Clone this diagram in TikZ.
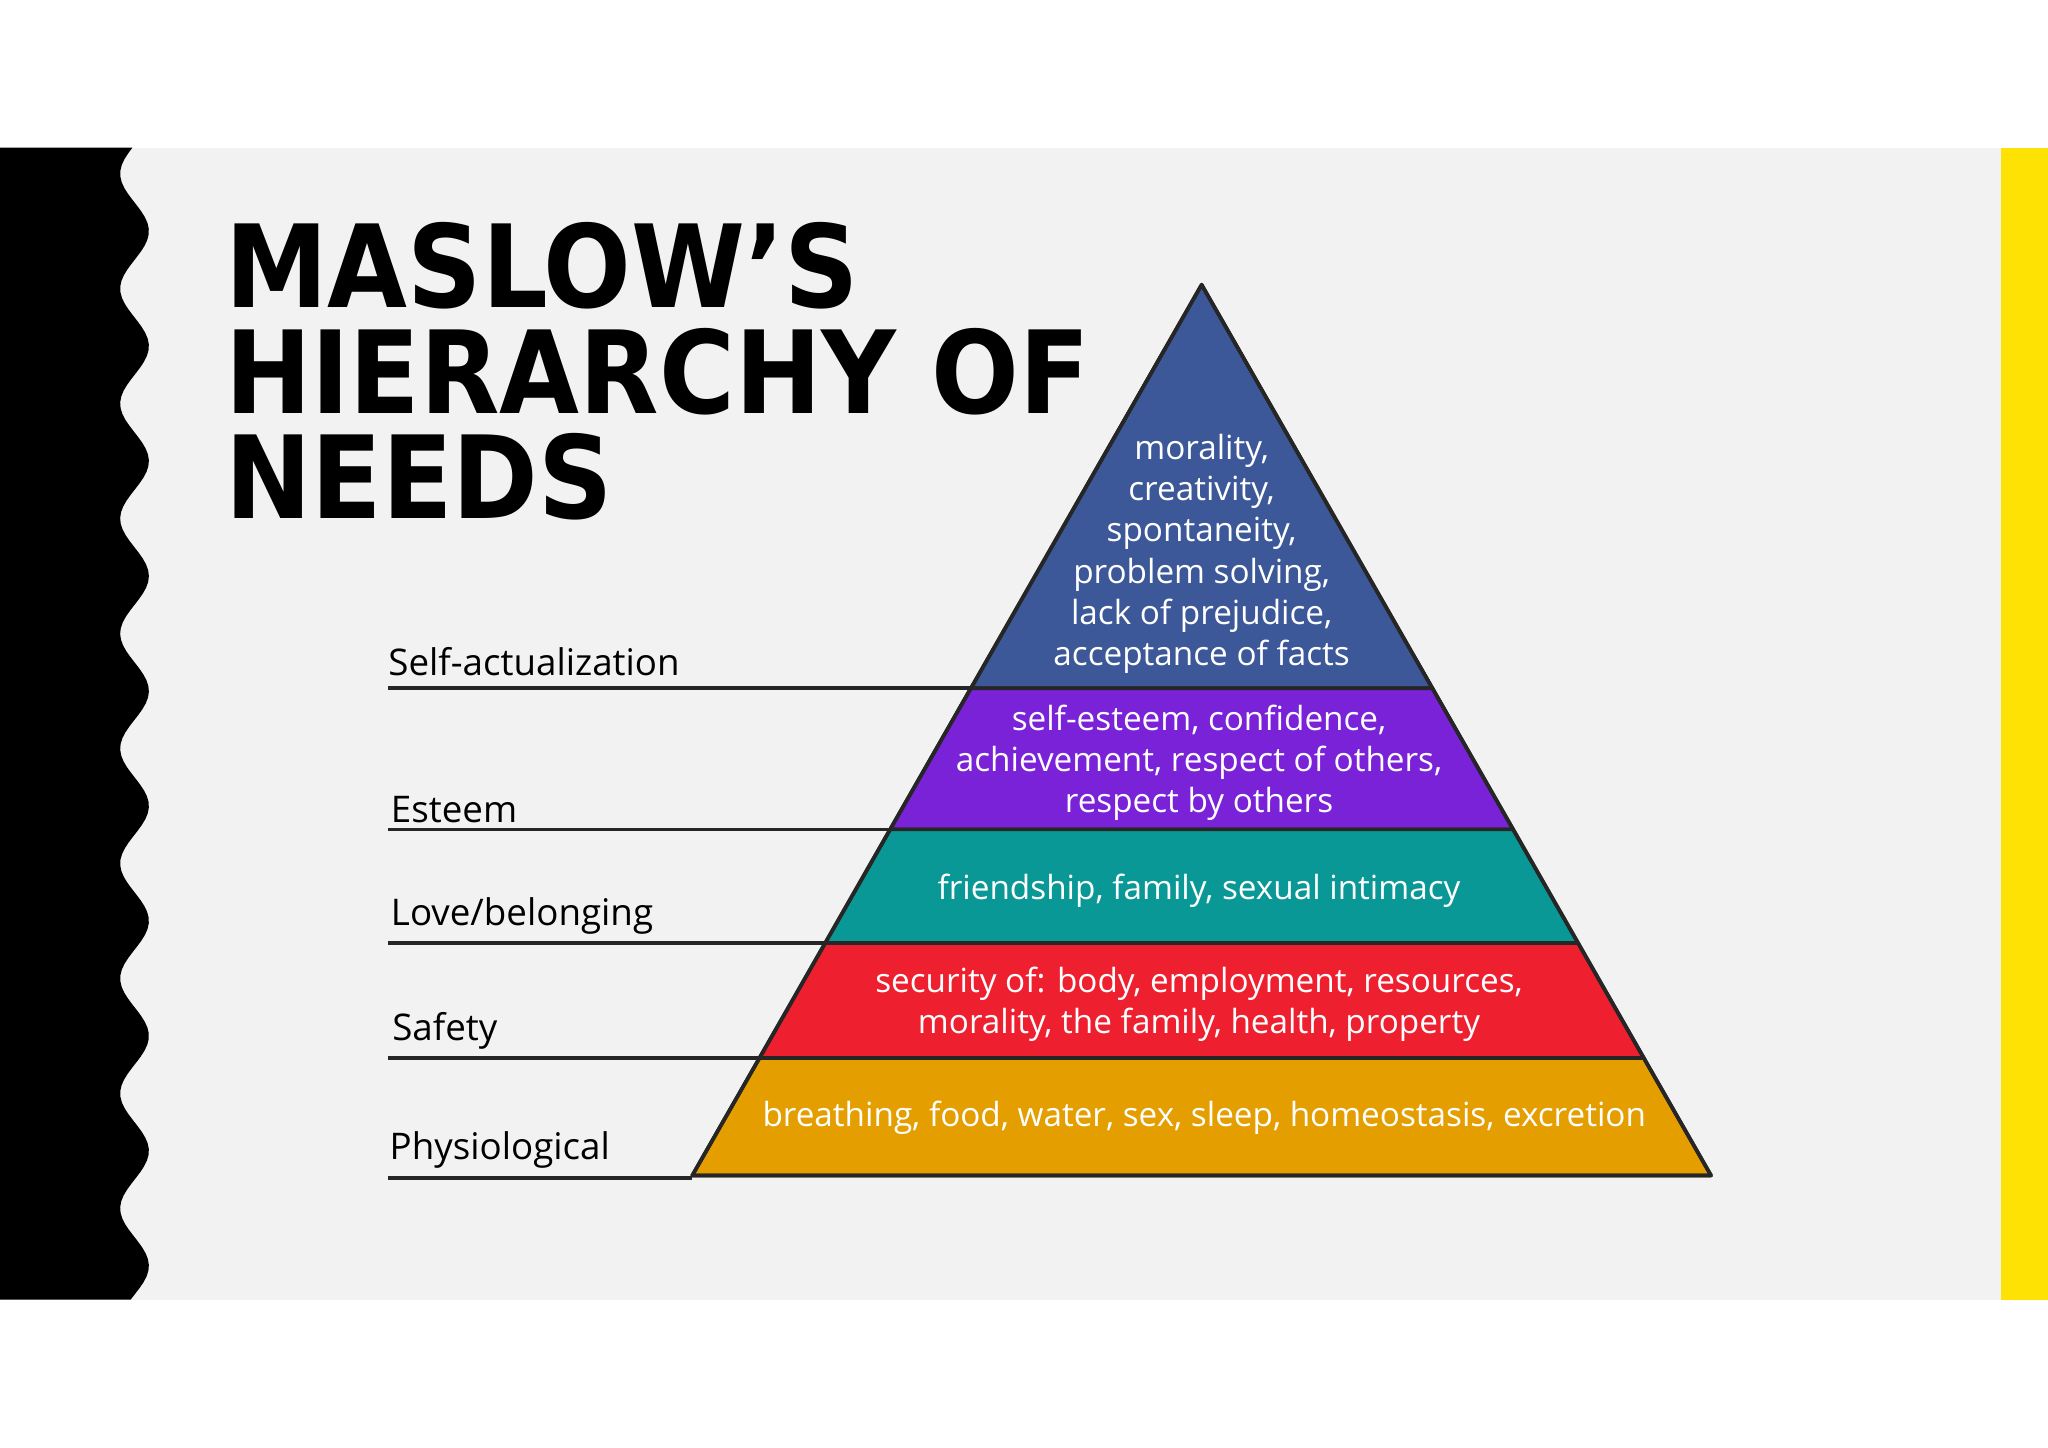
\documentclass[tikz,border=0pt]{standalone}
\usepackage{fontspec}
\setmainfont{Open Sans}
\newfontfamily\ttl{DejaVu Sans Condensed}
\begin{document}
\begin{tikzpicture}[x=0.02cm,y=-0.02cm,
  lbl/.style={anchor=south west,inner sep=0pt,font=\fontsize{16}{18}\selectfont},
  ptx/.style={align=center,text=white,inner sep=0pt,font=\fontsize{14.5}{18}\selectfont},
  band/.style={draw=black!85,line width=1.6pt,line join=round},
  lead/.style={draw=black!85,line width=1.6pt}]
\useasboundingbox (0,0) rectangle (1568,1108);
\fill[white] (0,0) rectangle (1568,1108);
\fill[black!5] (0,113) rectangle (1568,995);
\fill[black] (0,113) -- plot[domain=113:995,samples=200] ({103+11*sin((\x-155)*4.09)},\x) -- (0,995) -- cycle;
\fill[yellow!85!orange] (1532,113) rectangle (1568,995);
\node[anchor=north west,align=left,inner sep=0pt,font=\ttl\bfseries\fontsize{50}{46}\selectfont] (title) at (172,170) {MASLOW’S\\HIERARCHY OF\\NEEDS};
% bands
\fill[band,fill={rgb,255:red,60;green,88;blue,152}] (920,218) -- (1096.7,527) -- (743.3,527) -- cycle;
\fill[band,fill={rgb,255:red,122;green,34;blue,216}] (743.3,527) -- (1096.7,527) -- (1158.5,635) -- (681.5,635) -- cycle;
\fill[band,fill={rgb,255:red,10;green,152;blue,150}] (681.5,635) -- (1158.5,635) -- (1208.2,722) -- (631.8,722) -- cycle;
\fill[band,fill={rgb,255:red,238;green,32;blue,48}] (631.8,722) -- (1208.2,722) -- (1258.5,810) -- (581.5,810) -- cycle;
\fill[band,fill={rgb,255:red,228;green,158;blue,0}] (581.5,810) -- (1258.5,810) -- (1310,900) -- (530,900) -- cycle;
\draw[band] (920,218) -- (1310,900) -- (530,900) -- cycle;
\node[ptx] (t1) at (920,424) {morality,\\creativity,\\spontaneity,\\problem solving,\\lack of prejudice,\\acceptance of facts};
\node[ptx] (t2) at (918,584) {self-esteem, confidence,\\achievement, respect of others,\\respect by others};
\node[ptx] (t3) at (918,682) {friendship, family, sexual intimacy};
\node[ptx] (t4) at (918,769) {security of: body, employment, resources,\\morality, the family, health, property};
\node[ptx] (t5) at (922,856) {breathing, food, water, sex, sleep, homeostasis, excretion};
% leaders
\coordinate (a1) at (297,527); \coordinate (b1) at (743.3,527);
\coordinate (a2) at (297,635); \coordinate (b2) at (681.5,635);
\coordinate (a3) at (297,722); \coordinate (b3) at (631.8,722);
\coordinate (a4) at (297,810); \coordinate (b4) at (581.5,810);
\coordinate (a5) at (297,902); \coordinate (b5) at (530,902);
\draw[lead] (a1) -- (b1); \draw[lead] (a2) -- (b2); \draw[lead] (a3) -- (b3);
\draw[lead] (a4) -- (b4); \draw[lead] (a5) -- (b5);
\node[lbl] (l1) at (297,518) {Self-actualization};
\node[lbl] (l2) at (299,630) {Esteem};
\node[lbl] (l3) at (299,716) {Love/belonging};
\node[lbl] (l4) at (300,804) {Safety};
\node[lbl] (l5) at (298,895) {Physiological};
\end{tikzpicture}
\end{document}
